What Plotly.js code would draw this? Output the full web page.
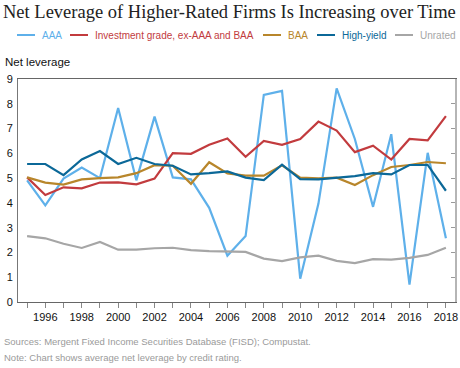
<!DOCTYPE html>
<html>
<head>
<meta charset="utf-8">
<script src="https://cdn.plot.ly/plotly-3.0.1.min.js"></script>
<style>
  html, body { margin: 0; padding: 0; background: #fff; }
  #chart { width: 460px; height: 368px; }
</style>
</head>
<body>
<div id="chart"></div>
<script>
// ---- Data ----
const years = [1995,1996,1997,1998,1999,2000,2001,2002,2003,2004,2005,2006,2007,2008,2009,2010,2011,2012,2013,2014,2015,2016,2017,2018];
const aaa = [4.91,3.90,4.98,5.43,5.00,7.83,4.91,7.48,5.03,4.95,3.80,1.87,2.66,8.36,8.52,0.94,3.97,8.62,6.58,3.84,6.77,0.70,6.02,2.57];
const igExAaaBaa = [5.03,4.32,4.63,4.59,4.82,4.83,4.75,4.98,6.01,5.98,6.35,6.60,5.86,6.50,6.34,6.58,7.28,6.92,6.05,6.31,5.75,6.58,6.52,7.50];
const baa = [5.03,4.82,4.74,4.95,5.00,5.03,5.20,5.52,5.50,4.77,5.64,5.19,5.10,5.10,5.52,5.02,4.99,5.02,4.72,5.12,5.45,5.53,5.65,5.60];
const highYield = [5.57,5.57,5.12,5.75,6.09,5.57,5.82,5.57,5.50,5.15,5.20,5.27,5.02,4.92,5.54,4.96,4.95,5.02,5.08,5.20,5.15,5.53,5.53,4.49];
const unrated = [2.66,2.57,2.35,2.18,2.42,2.11,2.11,2.17,2.19,2.09,2.05,2.05,2.02,1.75,1.65,1.80,1.87,1.66,1.57,1.73,1.71,1.78,1.90,2.19];

const seriesNames = ["AAA", "Investment grade, ex-AAA and BAA", "BAA", "High-yield", "Unrated"];
const seriesValues = [aaa, igExAaaBaa, baa, highYield, unrated];
const seriesColors = ["#5eb0ea", "#c23b3e", "#b8862b", "#0b6898", "#a6a6a6"];

const yTicks = [0,1,2,3,4,5,6,7,8,9];
const xTickText = years.map(y => (y % 2 === 0 ? String(y) : ""));

const titleText = "Net Leverage of Higher-Rated Firms Is Increasing over Time";
const yTitleText = "Net leverage";
const sourceText = "Sources: Mergent Fixed Income Securities Database (FISD); Compustat.";
const noteText = "Note: Chart shows average net leverage by credit rating.";

// ---- Layout helpers (pixel -> paper) ----
const W = 460, H = 368;
const M = { l: 18, r: 5, t: 79, b: 66 };
const pw = W - M.l - M.r, ph = H - M.t - M.b;
const px = x => (x - M.l) / pw;
const py = y => (H - M.b - y) / ph;

const traces = seriesNames.map((name, i) => ({
  type: "scatter",
  mode: "lines",
  name: name,
  x: years,
  y: seriesValues[i],
  line: { color: seriesColors[i], width: 2.2 },
  showlegend: false,
  hoverinfo: "x+y+name"
}));

// manual legend (line sample + coloured label)
const legendLineX = [17, 70, 263, 317, 395];
const legendY = 35;
const shapes = [];
const annotations = [];
seriesNames.forEach((name, i) => {
  shapes.push({
    type: "line", xref: "paper", yref: "paper",
    x0: px(legendLineX[i]), x1: px(legendLineX[i] + 18),
    y0: py(legendY), y1: py(legendY),
    line: { color: seriesColors[i], width: 2 }
  });
  annotations.push({
    xref: "paper", yref: "paper",
    x: px(legendLineX[i] + 23), y: py(legendY),
    xanchor: "left", yanchor: "middle",
    text: name, showarrow: false,
    font: { family: "Liberation Sans, Arial, sans-serif", size: 10, color: seriesColors[i] }
  });
});

annotations.push({
  xref: "paper", yref: "paper", x: px(3), y: py(62),
  xanchor: "left", yanchor: "middle", showarrow: false,
  text: yTitleText,
  font: { family: "Liberation Sans, Arial, sans-serif", size: 11.5, color: "#111" }
});
annotations.push({
  xref: "paper", yref: "paper", x: px(2), y: py(341),
  xanchor: "left", yanchor: "middle", showarrow: false,
  text: sourceText,
  font: { family: "Liberation Sans, Arial, sans-serif", size: 9.5, color: "#9a9a9a" }
});
annotations.push({
  xref: "paper", yref: "paper", x: px(2), y: py(357),
  xanchor: "left", yanchor: "middle", showarrow: false,
  text: noteText,
  font: { family: "Liberation Sans, Arial, sans-serif", size: 9.5, color: "#9a9a9a" }
});

const layout = {
  width: W, height: H,
  margin: M,
  paper_bgcolor: "#fff", plot_bgcolor: "#fff",
  title: {
    text: titleText,
    x: 3 / W, xanchor: "left", xref: "container",
    y: 1 - 12 / H, yanchor: "middle", yref: "container",
    font: { family: "Liberation Serif, Times New Roman, serif", size: 18.5, color: "#222" }
  },
  xaxis: {
    range: [1994.5, 2018.5],
    tickmode: "array", tickvals: years, ticktext: xTickText,
    ticks: "outside", ticklen: 5, tickcolor: "#888", tickwidth: 1,
    showline: true, linecolor: "#666", linewidth: 1, mirror: true,
    showgrid: false, zeroline: false,
    tickfont: { family: "Liberation Sans, Arial, sans-serif", size: 11, color: "#111" }
  },
  yaxis: {
    range: [0, 9],
    tickmode: "array", tickvals: yTicks,
    ticks: "", showline: true, linecolor: "#777", linewidth: 1,
    showgrid: false, zeroline: false,
    ticklabelstandoff: 2,
    tickfont: { family: "Liberation Sans, Arial, sans-serif", size: 11, color: "#111" }
  },
  yaxis2: {
    range: [0, 9], overlaying: "y", side: "right",
    tickmode: "array", tickvals: yTicks,
    ticks: "inside", ticklen: 4, tickcolor: "#999",
    showticklabels: false, showline: true, linecolor: "#b5b5b5", linewidth: 2,
    showgrid: false, zeroline: false
  },
  shapes: shapes,
  annotations: annotations,
  showlegend: false
};

// attach an invisible trace to yaxis2 so the right frame axis is drawn
traces.push({ type: "scatter", mode: "lines", x: [years[0]], y: [0], yaxis: "y2", showlegend: false, hoverinfo: "skip", line: { width: 0 } });

Plotly.newPlot("chart", traces, layout, { displayModeBar: false, staticPlot: true });
</script>
</body>
</html>
